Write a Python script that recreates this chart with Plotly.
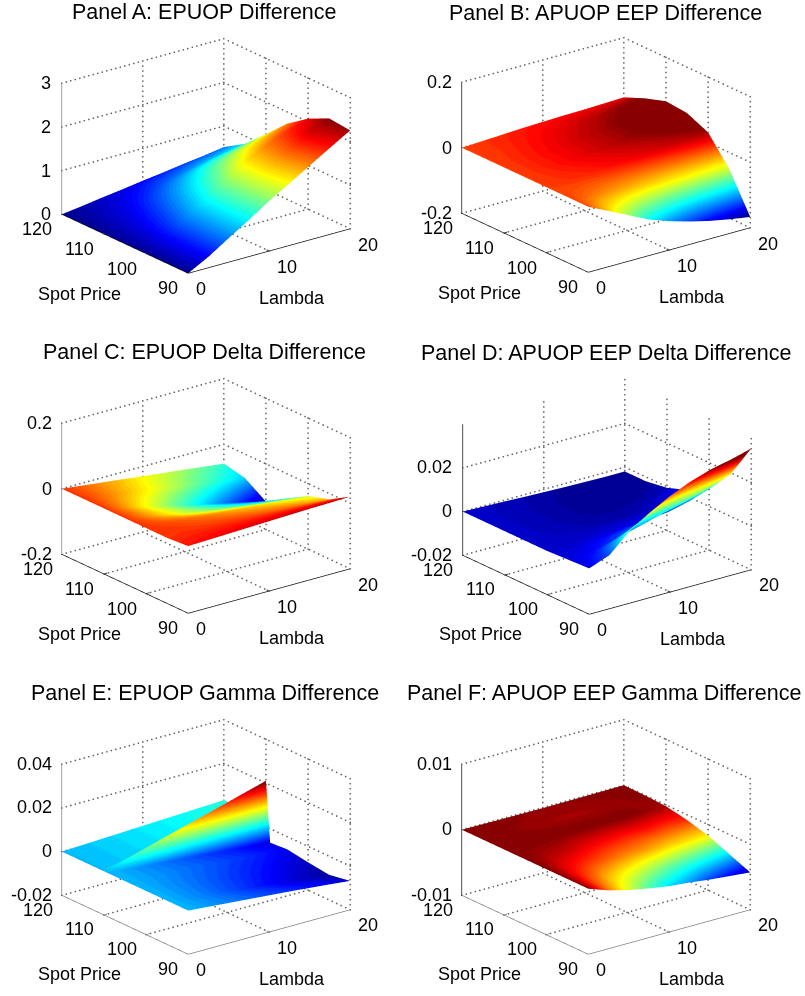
import plotly.graph_objects as go

LAMBDA = [0, 2.5, 5, 7.5, 10, 12.5, 15, 17.5, 20]
SPOT = [90, 95, 100, 105, 110, 115, 120]
SPOT_E = [90, 95, 100, 105, 109, 110, 111, 115, 120]
SPOT_TICKS = [90, 100, 110, 120]
LAMBDA_TICKS = [0, 10, 20]

Z_A = [
    [0, .25, .55, .84, 1.15, 1.42, 1.70, 1.98, 2.25],
    [0, .26, .56, .86, 1.18, 1.50, 1.80, 2.10, 2.30],
    [0, .26, .55, .85, 1.18, 1.50, 1.73, 1.92, 2.07],
    [0, .20, .42, .68, .95, 1.20, 1.42, 1.58, 1.73],
    [0, .14, .30, .50, .70, .90, 1.04, 1.16, 1.27],
    [0, .10, .20, .32, .45, .56, .66, .74, .82],
    [0, .06, .13, .19, .26, .32, .39, .45, .52],
]
Z_B = [
    [0, -.03, -.06, -.09, -.112, -.13, -.145, -.157, -.167],
    [0, -.008, -.016, -.023, -.03, -.036, -.041, -.046, -.05],
    [0, .003, .006, .01, .014, .018, .022, .027, .031],
    [0, .006, .012, .018, .025, .032, .04, .05, .06],
    [0, .006, .012, .018, .025, .032, .041, .053, .066],
    [0, .004, .009, .014, .019, .025, .031, .038, .045],
    [0, .003, .006, .009, .011, .013, .014, .016, .018],
]
Z_C = [
    [.005, .007, .009, .011, .013, .015, .017, .018, .02],
    [0, .001, 0, -.001, -.003, -.006, -.009, -.013, -.018],
    [0, -.003, -.007, -.012, -.017, -.022, -.027, -.033, -.038],
    [0, -.012, -.024, -.036, -.045, -.053, -.061, -.068, -.075],
    [0, -.014, -.029, -.043, -.058, -.072, -.086, -.1, -.115],
    [0, -.009, -.018, -.027, -.036, -.045, -.055, -.064, -.073],
    [0, -.0074, -.0148, -.022, -.03, -.037, -.044, -.052, -.059],
]
Z_D = [
    [.001, .0045, .013, .019, .024, .028, .031, .033, .0355],
    [.0005, .0012, .003, .0055, .008, .0105, .013, .016, .019],
    [0, 0, .0002, .0005, .001, .0016, .0026, .0048, .008],
    [0, -.0003, -.0006, -.0009, -.0011, -.0011, -.0006, .0008, .003],
    [0, -.0004, -.0008, -.0012, -.0016, -.0018, -.0018, -.0014, -.0005],
    [0, -.0004, -.0008, -.0012, -.0016, -.0019, -.0021, -.0021, -.002],
    [0, -.0003, -.0006, -.001, -.0013, -.0016, -.0018, -.002, -.002],
]
Z_E = [
    [0, -.0008, -.0016, -.0024, -.0032, -.004, -.0049, -.0058, -.0068],
    [0, -.001, -.002, -.0031, -.0042, -.0053, -.0064, -.0075, -.0085],
    [0, -.0009, -.0018, -.0027, -.0036, -.0045, -.0054, -.0064, -.0073],
    [0, -.0007, -.0014, -.0021, -.0028, -.0035, -.0042, -.005, -.0058],
    [0, -.0007, -.0015, -.0023, -.0031, -.0039, -.0047, -.0056, -.0064],
    [0, .0026, .0052, .0079, .0105, .0131, .0157, .0184, .021],
    [0, .0004, .0008, .0012, .0016, .002, .0024, .0028, .0032],
    [0, .0004, .0008, .0012, .0016, .002, .0024, .0028, .0032],
    [0, .0004, .0008, .0012, .0016, .002, .0024, .0028, .0032],
]
Z_F = [
    [0, -.0011, -.0019, -.0025, -.003, -.0033, -.0037, -.004, -.0043],
    [0, -.0008, -.0014, -.0018, -.0021, -.0024, -.0026, -.0028, -.003],
    [0, -.0005, -.0008, -.001, -.0012, -.0013, -.0015, -.0016, -.0017],
    [0, -.0002, -.0003, -.0005, -.0006, -.0007, -.0007, -.0008, -.0008],
    [0, 0, 0, 0, 0, 0, 0, -.0001, -.0002],
    [0, -.00005, -.0001, -.00015, -.00018, -.00018, -.00015, -.0001, -.00005],
    [0, -.00003, -.00006, -.00008, -.0001, -.00008, -.00006, -.00003, 0],
]

JET_ANCHORS = [(0, (0, 0, 143)), (.111, (0, 0, 255)), (.365, (0, 255, 255)),
               (.619, (255, 255, 0)), (.873, (255, 0, 0)), (1, (128, 0, 0))]


def jet_at(f):
    for (a, ca), (b, cb) in zip(JET_ANCHORS, JET_ANCHORS[1:]):
        if f <= b:
            t = (f - a) / (b - a)
            return tuple(round(u + t * (v - u)) for u, v in zip(ca, cb))
    return JET_ANCHORS[-1][1]


JET64 = []
for k in range(64):
    col = "rgb(%d,%d,%d)" % jet_at((k + .5) / 64)
    JET64 += [[k / 64, col], [(k + 1) / 64, col]]

W, H = 805, 996
FONT = "Liberation Sans"
TICK = 18
BOX_W, BOX_H = 396, 300
EYE_R = 1.6
BLK, GRY = "#111111", "#808080"
PAD = .002  # fraction of a span added to each range so the box edges are not clipped

PANELS = [
    dict(title="Panel A: EPUOP Difference", tx=205, ty=12, cx=205.5, cy=156, z=Z_A, s=SPOT,
         zr=[0, 3], zt=[0, 1, 2, 3], zl=["0", "1", "2", "3"], c=[0, 2.32], ax=(BLK, BLK, GRY)),
    dict(title="Panel B: APUOP EEP Difference", tx=605.5, ty=13, cx=606, cy=155, z=Z_B, s=SPOT,
         zr=[-.2, .2], zt=[-.2, 0, .2], zl=["-0.2", "0", "0.2"], c=[-.167, .04], ax=(BLK, BLK, BLK)),
    dict(title="Panel C: EPUOP Delta Difference", tx=205, ty=352, cx=206, cy=496, z=Z_C, s=SPOT,
         zr=[-.2, .2], zt=[-.2, 0, .2], zl=["-0.2", "0", "0.2"], c=[-.119, .026], ax=(BLK, BLK, GRY)),
    dict(title="Panel D: APUOP EEP Delta Difference", tx=606, ty=353, cx=606.5, cy=496.5, z=Z_D, s=SPOT,
         zr=[-.02, .04], zt=[-.02, 0, .02], zl=["-0.02", "0", "0.02"], c=[-.002, .032], ax=(BLK, BLK, BLK)),
    dict(title="Panel E: EPUOP Gamma Difference", tx=205, ty=693, cx=206, cy=836.5, z=Z_E, s=SPOT_E,
         zr=[-.02, .04], zt=[-.02, 0, .02, .04], zl=["-0.02", "0", "0.02", "0.04"], c=[-.0088, .021],
         ax=(GRY, GRY, GRY)),
    dict(title="Panel F: APUOP EEP Gamma Difference", tx=604, ty=693, cx=606, cy=836.5, z=Z_F, s=SPOT,
         zr=[-.01, .01], zt=[-.01, 0, .01], zl=["-0.01", "0", "0.01"], c=[-.0045, 0], ax=(GRY, GRY, BLK)),
]

L0, L1 = LAMBDA_TICKS[0], LAMBDA_TICKS[-1]
S0, S1 = SPOT_TICKS[0], SPOT_TICKS[-1]


def dotted(a, b, n):
    """Points along a gridline between two axis positions, so it reads as a row of dots."""
    return [tuple(u + (v - u) * k / n for u, v in zip(a, b)) for k in range(n + 1)]


def padded(lo, hi):
    d = (hi - lo) * PAD
    return [lo - d, hi + d]


fig = go.Figure()
layout = dict(width=W, height=H, margin=dict(l=0, r=0, t=0, b=0), paper_bgcolor="white",
              showlegend=False, annotations=[])
NL, NS, NZ = 36, 28, 26  # dots along a full lambda, spot and z span

for i, p in enumerate(PANELS):
    name = "scene" if i == 0 else f"scene{i + 1}"
    zlo, zhi = p["zr"]
    fig.add_trace(go.Surface(x=LAMBDA, y=p["s"], z=p["z"], scene=name, colorscale=JET64,
                             cmin=p["c"][0], cmax=p["c"][1], showscale=False, hoverinfo="skip",
                             lighting=dict(ambient=1, diffuse=0, specular=0, roughness=1, fresnel=0)))
    pts = []
    for zv in p["zt"]:
        pts += dotted((L0, S1, zv), (L1, S1, zv), NL)
        pts += dotted((L1, S0, zv), (L1, S1, zv), NS)
    for lv in LAMBDA_TICKS[1:]:
        pts += dotted((lv, S1, zlo), (lv, S1, zhi), NZ)
        pts += dotted((lv, S0, zlo), (lv, S1, zlo), NS)
    for sv in SPOT_TICKS:
        pts += dotted((L1, sv, zlo), (L1, sv, zhi), NZ)
        if sv > S0:
            pts += dotted((L0, sv, zlo), (L1, sv, zlo), NL)
    fig.add_trace(go.Scatter3d(x=[q[0] for q in pts], y=[q[1] for q in pts], z=[q[2] for q in pts],
                               scene=name, mode="markers", hoverinfo="skip",
                               marker=dict(color="#666666", size=1, line=dict(width=0))))
    axis_parts = [([L0, L1], [S0, S0], [zlo, zlo]), ([L0, L0], [S0, S1], [zlo, zlo]), ([L0, L0], [S1, S1], [zlo, zhi])]
    for (xs, ys, zs), col in zip(axis_parts, p["ax"]):
        fig.add_trace(go.Scatter3d(x=xs, y=ys, z=zs, scene=name, mode="lines", hoverinfo="skip",
                                   line=dict(color=col, width=1.5)))
    for lv in LAMBDA_TICKS[1:-1]:
        fig.add_trace(go.Scatter3d(x=[lv, lv], y=[S0, S0 + .6], z=[zlo, zlo], scene=name, mode="lines",
                                   hoverinfo="skip", line=dict(color=p["ax"][0], width=1.5)))
    for sv in SPOT_TICKS[1:-1]:
        fig.add_trace(go.Scatter3d(x=[L0, L0 + .4], y=[sv, sv], z=[zlo, zlo], scene=name, mode="lines",
                                   hoverinfo="skip", line=dict(color=p["ax"][1], width=1.5)))

    ann = []
    common = dict(showarrow=False, font=dict(family=FONT, size=TICK, color="black"))
    for zv, zl in zip(p["zt"], p["zl"]):
        ann.append(dict(x=L0, y=S1, z=zv, text=zl, xanchor="right", xshift=-8, yshift=0, **common))
    for sv in SPOT_TICKS:
        ann.append(dict(x=L0, y=sv, z=zlo, text=str(sv), xshift=-24 if sv > S0 else -20, yshift=-15, **common))
    for lv in LAMBDA_TICKS:
        ann.append(dict(x=lv, y=S0, z=zlo, text=str(lv), xshift=13 if lv == L0 else 18, yshift=-16, **common))
    ann.append(dict(x=L0, y=105, z=zlo, text="Spot Price", xshift=-45, yshift=-50, **common))
    ann.append(dict(x=10, y=S0, z=zlo, text="Lambda", xshift=23, yshift=-47, **common))

    cx, cy = p["cx"], p["cy"]
    layout[name] = dict(
        domain=dict(x=[(cx - BOX_W / 2) / W, (cx + BOX_W / 2) / W],
                    y=[1 - (cy + BOX_H / 2) / H, 1 - (cy - BOX_H / 2) / H]),
        camera=dict(projection=dict(type="orthographic"), up=dict(x=0, y=0, z=1), center=dict(x=0, y=0, z=0),
                    eye=dict(x=-0.5689 * EYE_R, y=-0.7415 * EYE_R, z=0.3584 * EYE_R)),
        aspectmode="manual", aspectratio=dict(x=1.367, y=1.39, z=0.94),
        xaxis=dict(visible=False, range=padded(L0, L1)),
        yaxis=dict(visible=False, range=padded(S0, S1)),
        zaxis=dict(visible=False, range=padded(zlo, zhi)),
        annotations=ann,
    )
    layout["annotations"].append(dict(xref="paper", yref="paper", x=p["tx"] / W, y=1 - p["ty"] / H,
                                      text=p["title"], showarrow=False,
                                      font=dict(family=FONT, size=21.5, color="black"),
                                      xanchor="center", yanchor="middle"))

fig.update_layout(**layout)
fig.write_html("out.html", post_script="document.body.style.margin='0';", config={"displayModeBar": False})
